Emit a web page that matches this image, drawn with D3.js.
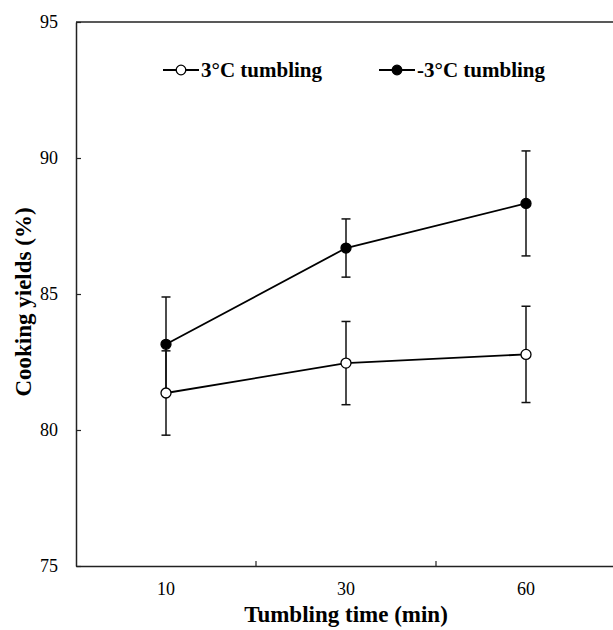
<!DOCTYPE html>
<html>
<head>
<meta charset="utf-8">
<script src="https://cdn.jsdelivr.net/npm/d3@7"></script>
<style>
  body { margin: 0; background: #fff; }
  svg { display: block; font-family: "Liberation Serif", "Times New Roman", serif; }
</style>
</head>
<body>
<svg id="chart" width="613" height="630"></svg>
<script>
// tumbling time categories (min)
const times = ["10", "30", "60"];

// cooking yields (%) and standard deviations
const warmMeans = [81.36, 82.46, 82.78];   // 3°C tumbling
const warmSD = [1.55, 1.53, 1.77];
const coldMeans = [83.15, 86.69, 88.33];   // -3°C tumbling
const coldSD = [1.74, 1.07, 1.93];

const yTicks = [75, 80, 85, 90, 95];

const series = [
  { name: "3°C tumbling", means: warmMeans, sd: warmSD, fill: "#fff" },
  { name: "-3°C tumbling", means: coldMeans, sd: coldSD, fill: "#000" }
];

const margin = { left: 76, top: 22, right: 616, bottom: 566 };
const svg = d3.select("#chart");

const xScale = d3.scaleBand().domain(times).range([margin.left, margin.right]);
const yScale = d3.scaleLinear().domain([75, 95]).range([margin.bottom, margin.top]);

// y axis, ticks pointing inward
svg.append("g")
  .attr("class", "y-axis")
  .attr("transform", "translate(" + margin.left + ",0)")
  .call(d3.axisLeft(yScale).tickValues(yTicks).tickSizeInner(-5).tickSizeOuter(0).tickPadding(18))
  .call(g => g.select(".domain").attr("stroke", "#222").attr("stroke-width", 1.5))
  .call(g => g.selectAll(".tick line").attr("stroke", "#222").attr("stroke-width", 1.2))
  .call(g => g.selectAll("text").attr("font-size", 18).attr("fill", "#000")
    .attr("font-family", "Liberation Serif"));

// x axis: labels at band centres, tick marks at band boundaries
svg.append("g")
  .attr("class", "x-axis")
  .attr("transform", "translate(0," + margin.bottom + ")")
  .call(d3.axisBottom(xScale).tickSize(0).tickPadding(16))
  .call(g => g.select(".domain").attr("stroke", "#222").attr("stroke-width", 1.5))
  .call(g => g.selectAll("text").attr("font-size", 18).attr("fill", "#000")
    .attr("font-family", "Liberation Serif"));

svg.append("g")
  .selectAll("line")
  .data(times.slice(1))
  .join("line")
  .attr("x1", d => xScale(d))
  .attr("x2", d => xScale(d))
  .attr("y1", margin.bottom)
  .attr("y2", margin.bottom - 5)
  .attr("stroke", "#222")
  .attr("stroke-width", 1.2);

// top frame line
svg.append("line")
  .attr("x1", margin.left).attr("x2", margin.right)
  .attr("y1", margin.top).attr("y2", margin.top)
  .attr("stroke", "#222").attr("stroke-width", 1.5);

// axis titles
svg.append("text")
  .attr("x", xScale.range()[0] + (xScale.range()[1] - xScale.range()[0]) / 2)
  .attr("y", 622)
  .attr("text-anchor", "middle")
  .attr("font-size", 23)
  .attr("font-weight", "bold")
  .text("Tumbling time (min)");

svg.append("text")
  .attr("transform", "translate(31," + ((margin.top + margin.bottom) / 2 + 8) + ") rotate(-90)")
  .attr("text-anchor", "middle")
  .attr("font-size", 23)
  .attr("font-weight", "bold")
  .text("Cooking yields (%)");

const cx = d => xScale(d) + xScale.bandwidth() / 2;
const capW = 4.5;

// error bars
series.forEach(s => {
  const g = svg.append("g").attr("class", "error-bars");
  const rows = times.map((t, i) => ({ t, m: s.means[i], sd: s.sd[i] }));
  g.selectAll(".err").data(rows).join("line")
    .attr("x1", d => cx(d.t)).attr("x2", d => cx(d.t))
    .attr("y1", d => yScale(d.m - d.sd)).attr("y2", d => yScale(d.m + d.sd))
    .attr("stroke", "#111").attr("stroke-width", 1.5);
  g.selectAll(".cap-hi").data(rows).join("line")
    .attr("x1", d => cx(d.t) - capW).attr("x2", d => cx(d.t) + capW)
    .attr("y1", d => yScale(d.m + d.sd)).attr("y2", d => yScale(d.m + d.sd))
    .attr("stroke", "#111").attr("stroke-width", 1.5);
  g.selectAll(".cap-lo").data(rows).join("line")
    .attr("x1", d => cx(d.t) - capW).attr("x2", d => cx(d.t) + capW)
    .attr("y1", d => yScale(d.m - d.sd)).attr("y2", d => yScale(d.m - d.sd))
    .attr("stroke", "#111").attr("stroke-width", 1.5);
});

// lines and markers
const line = d3.line().x(d => cx(d.t)).y(d => yScale(d.m));
series.forEach(s => {
  const rows = times.map((t, i) => ({ t, m: s.means[i] }));
  svg.append("path")
    .datum(rows)
    .attr("d", line)
    .attr("fill", "none")
    .attr("stroke", "#000")
    .attr("stroke-width", 1.8);
  svg.append("g").selectAll("circle").data(rows).join("circle")
    .attr("cx", d => cx(d.t))
    .attr("cy", d => yScale(d.m))
    .attr("r", 5)
    .attr("fill", s.fill)
    .attr("stroke", "#000")
    .attr("stroke-width", 1.3);
});

// legend
const legendX = [163, 379];
series.forEach((s, i) => {
  const g = svg.append("g").attr("transform", "translate(" + legendX[i] + ",70)");
  g.append("line").attr("x1", 0).attr("x2", 36).attr("y1", 0).attr("y2", 0)
    .attr("stroke", "#000").attr("stroke-width", 1.8);
  g.append("circle").attr("cx", 18).attr("cy", 0).attr("r", 4.8)
    .attr("fill", s.fill).attr("stroke", "#000").attr("stroke-width", 1.3);
  g.append("text").attr("x", 38).attr("y", 7)
    .attr("font-size", 21).attr("font-weight", "bold")
    .text(s.name);
});
</script>
</body>
</html>
